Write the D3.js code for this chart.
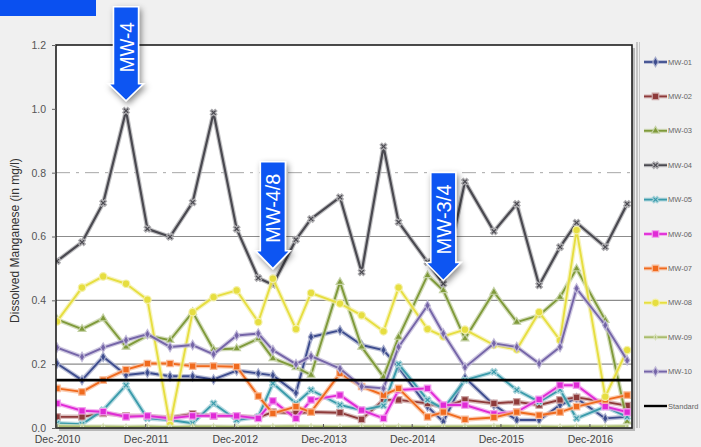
<!DOCTYPE html>
<html><head><meta charset="utf-8">
<script src="https://cdn.jsdelivr.net/npm/d3@7"></script>
<style>
html,body{margin:0;padding:0;background:#f0f0f0;}
svg{display:block;font-family:"Liberation Sans",Arial,sans-serif;}
</style></head><body>
<svg id="chart" width="701" height="447"></svg>
<script>
// ---------- data ----------
const sampleDates = ["2010-12-01","2011-03-14","2011-06-09","2011-09-11","2011-12-08","2012-03-10","2012-06-11","2012-09-05","2012-12-09","2013-03-08","2013-05-07","2013-08-10","2013-10-11","2014-02-07","2014-05-07","2014-08-05","2014-10-06","2015-02-02","2015-04-08","2015-07-06","2015-11-02","2016-02-04","2016-05-06","2016-07-31","2016-10-07","2017-02-02","2017-05-03"];
const seriesNames = ["MW-01","MW-02","MW-03","MW-04","MW-05","MW-06","MW-07","MW-08","MW-09","MW-10"];
const mw01 = [0.202,0.150,0.223,0.166,0.173,0.162,0.162,0.152,0.180,0.171,0.165,0.110,0.285,0.306,0.260,0.244,0.190,0.067,0.020,0.158,0.072,0.025,0.025,0.072,0.093,0.030,0.035];
const mw02 = [0.035,0.035,0.046,0.038,0.038,0.033,0.044,0.038,0.038,0.033,0.050,0.046,0.050,0.048,0.027,0.088,0.088,0.077,0.065,0.088,0.077,0.082,0.072,0.088,0.096,0.082,0.070];
const mw03 = [0.340,0.310,0.343,0.254,0.290,0.275,0.363,0.246,0.249,0.280,0.218,0.190,0.166,0.457,0.254,0.160,0.285,0.478,0.431,0.280,0.426,0.332,0.353,0.410,0.499,0.338,0.020];
const mw04 = [0.523,0.582,0.705,0.994,0.624,0.599,0.707,0.988,0.624,0.470,0.449,0.590,0.655,0.723,0.488,0.882,0.645,0.520,0.452,0.772,0.616,0.702,0.447,0.567,0.643,0.567,0.702];
const mw05 = [0.015,0.012,0.056,0.134,0.030,0.025,0.015,0.077,0.025,0.035,0.140,0.077,0.119,0.072,0.056,0.070,0.200,0.088,0.060,0.150,0.176,0.119,0.082,0.120,0.030,0.067,0.035];
const mw06 = [0.077,0.054,0.051,0.035,0.038,0.030,0.038,0.038,0.038,0.030,0.085,0.030,0.088,0.103,0.056,0.030,0.119,0.124,0.072,0.072,0.044,0.050,0.090,0.134,0.134,0.067,0.050];
const mw07 = [0.124,0.113,0.150,0.183,0.202,0.202,0.194,0.194,0.192,0.100,0.046,0.067,0.050,0.171,0.130,0.103,0.124,0.035,0.050,0.027,0.033,0.050,0.040,0.050,0.067,0.088,0.103];
const mw08 = [0.334,0.440,0.475,0.452,0.402,0.010,0.363,0.410,0.431,0.332,0.468,0.310,0.423,0.390,0.353,0.303,0.440,0.310,0.287,0.308,0.260,0.246,0.363,0.275,0.620,0.098,0.244];
const mw09 = [0.006,0.005,0.005,0.004,0.005,0.003,0.005,0.005,0.004,0.005,0.005,0.006,0.005,0.004,0.005,0.005,0.005,0.004,0.005,0.005,0.006,0.005,0.005,0.004,0.005,0.005,0.006];
const mw10 = [0.252,0.223,0.252,0.275,0.294,0.254,0.260,0.231,0.290,0.296,0.244,0.200,0.225,0.186,0.130,0.124,0.254,0.384,0.296,0.190,0.265,0.254,0.202,0.254,0.437,0.322,0.212];
const standardLabel = "Standard";
const standardValue = 0.15;
const yTicks = [0, 0.2, 0.4, 0.6, 0.8, 1.0, 1.2];
const xTickDates = ["2010-12-01","2011-12-01","2012-12-01","2013-12-01","2014-12-01","2015-12-01","2016-12-01"];
const yTitle = "Dissolved Manganese (in mg/l)";
const calloutLabels = ["MW-4", "MW-4/8", "MW-3/4"];
const calloutSeries = ["MW-04", "MW-08", "MW-03"];
const calloutIndex = [3, 10, 18];

// ---------- styles ----------
const seriesValues = [mw01,mw02,mw03,mw04,mw05,mw06,mw07,mw08,mw09,mw10];
const colors = ["#3d4c8e","#8e3a3a","#7f9a3a","#4a4950","#3a9bab","#e02ad6","#f06a1e","#e6de40","#a9bc6c","#7565a8"];
const symbols = [d3.symbolDiamond,d3.symbolSquare,d3.symbolTriangle,d3.symbolCross,d3.symbolCross,d3.symbolSquare,d3.symbolSquare,d3.symbolCircle,d3.symbolDiamond,d3.symbolDiamond];
const symSize = [26,42,26,28,28,42,42,44,8,26];
const symRot = [0,0,0,45,45,0,0,0,0,0];
const calloutShape = [{len:94, head:17},{len:107, head:18},{len:108, head:18}];

const W = 701, H = 447;
const plot = {left:56, right:632, top:45, bottom:428};
const parse = d3.timeParse("%Y-%m-%d");
const dates = sampleDates.map(parse);

const svg = d3.select("#chart");
const defs = svg.append("defs");
const f = defs.append("filter").attr("id","shadow").attr("x","-50%").attr("y","-20%").attr("width","200%").attr("height","150%");
f.append("feDropShadow").attr("dx",2).attr("dy",3).attr("stdDeviation",3).attr("flood-color","#000").attr("flood-opacity",0.45);
defs.append("clipPath").attr("id","clip").append("rect")
  .attr("x",plot.left).attr("y",plot.top).attr("width",plot.right-plot.left).attr("height",plot.bottom-plot.top);

const x = d3.scaleTime().domain([parse("2010-11-27"), parse("2017-05-23")]).range([plot.left, plot.right]);
const y = d3.scaleLinear().domain([0, 1.2]).range([plot.bottom, plot.top]);

// blue tab top-left
svg.append("rect").attr("x",0).attr("y",0).attr("width",96).attr("height",16).attr("fill","#0a50f0");

// plot frame shadow
svg.append("rect").attr("x",plot.left+3).attr("y",plot.top+3).attr("width",plot.right-plot.left).attr("height",plot.bottom-plot.top)
  .attr("fill","#b8b8b8");
svg.append("rect").attr("x",plot.left).attr("y",plot.top).attr("width",plot.right-plot.left).attr("height",plot.bottom-plot.top)
  .attr("fill","#fff");

// gridlines
const g = svg.append("g");
[0.2,0.4,0.6].forEach(v=>{
  g.append("line").attr("x1",plot.left).attr("x2",plot.right).attr("y1",y(v)).attr("y2",y(v))
   .attr("stroke","#8c8c8c").attr("stroke-width",1.2);
});
g.append("line").attr("x1",plot.left).attr("x2",plot.right).attr("y1",y(0.8)).attr("y2",y(0.8))
  .attr("stroke","#a8a8a8").attr("stroke-width",1).attr("stroke-dasharray","14,6,3,6");

// series
const line = d3.line().x((d,i)=>x(dates[i])).y(d=>y(d));
const data = seriesNames.map((n,i)=>({name:n, values:seriesValues[i], color:colors[i], i}));
const layer = svg.append("g").attr("clip-path","url(#clip)");
data.forEach(s=>{
  const halo = d3.interpolateRgb(s.color, "#ffffff")(0.55);
  const gs = layer.append("g");
  gs.append("path").datum(s.values).attr("d",line).attr("fill","none")
    .attr("stroke",halo).attr("stroke-width",4.5).attr("stroke-opacity",0.75).attr("stroke-linejoin","round");
  gs.append("path").datum(s.values).attr("d",line).attr("fill","none")
    .attr("stroke",s.color).attr("stroke-width",s.name==="MW-04"?2.2:1.9).attr("stroke-linejoin","round");
  gs.selectAll("path.m").data(s.values).join("path").attr("class","m")
    .attr("d", d3.symbol().type(symbols[s.i]).size(symSize[s.i]))
    .attr("transform",(d,i)=>`translate(${x(dates[i])},${y(d)}) rotate(${symRot[s.i]})`)
    .attr("fill",s.color).attr("stroke",halo).attr("stroke-width",1.2);
});

// standard line
svg.append("line").attr("x1",plot.left).attr("x2",plot.right).attr("y1",y(standardValue)).attr("y2",y(standardValue))
  .attr("stroke","#000").attr("stroke-width",2.6);

// frame
svg.append("rect").attr("x",plot.left).attr("y",plot.top).attr("width",plot.right-plot.left).attr("height",plot.bottom-plot.top)
  .attr("fill","none").attr("stroke","#1e1e1e").attr("stroke-width",1.6);

// y axis
const ya = svg.append("g").attr("transform",`translate(${plot.left},0)`)
  .call(d3.axisLeft(y).tickValues(yTicks).tickFormat(d3.format(".1f")).tickSize(4).tickPadding(6));
ya.select(".domain").remove();
ya.selectAll("line").attr("stroke","#666");
ya.selectAll("text").attr("fill","#555").style("font-size","10.5px").style("font-family","'Liberation Sans',Arial,sans-serif");

// x axis
const xa = svg.append("g").attr("transform",`translate(0,${plot.bottom})`)
  .call(d3.axisBottom(x).tickValues(xTickDates.map(parse)).tickFormat(d3.timeFormat("%b-%Y")).tickSize(0).tickPadding(7.5));
xa.select(".domain").remove();
xa.selectAll("text").attr("fill","#444").style("font-size","10.5px").style("font-family","'Liberation Sans',Arial,sans-serif");
svg.append("g").selectAll("line").data(xTickDates.map(parse)).join("line")
  .attr("x1",d=>x(d)).attr("x2",d=>x(d)).attr("y1",plot.bottom).attr("y2",plot.bottom-4).attr("stroke","#555");

// y title
svg.append("text").attr("transform",`translate(19,${(plot.top+plot.bottom)/2+4}) rotate(-90)`)
  .attr("text-anchor","middle").attr("fill","#333").style("font-size","12px").text(yTitle);

// legend
const lx = 637;
svg.append("line").attr("x1",lx).attr("x2",lx).attr("y1",42).attr("y2",428).attr("stroke","#9a9a9a").attr("stroke-width",1);
svg.append("line").attr("x1",lx+2.5).attr("x2",lx+2.5).attr("y1",42).attr("y2",428).attr("stroke","#c8c8c8").attr("stroke-width",1);
const legendNames = seriesNames.concat([standardLabel]);
const leg = svg.append("g").selectAll("g").data(legendNames).join("g")
  .attr("transform",(d,i)=>`translate(0,${62 + i*34.4})`);
leg.each(function(n,i){
  const gg = d3.select(this);
  if (i < seriesNames.length) {
    const c = colors[i], halo = d3.interpolateRgb(c,"#ffffff")(0.55);
    gg.append("line").attr("x1",644).attr("x2",667).attr("stroke",halo).attr("stroke-width",4).attr("stroke-opacity",0.75);
    gg.append("line").attr("x1",644).attr("x2",667).attr("stroke",c).attr("stroke-width",1.8);
    gg.append("path").attr("d",d3.symbol().type(symbols[i]).size(symSize[i])())
      .attr("transform",`translate(655.5,0) rotate(${symRot[i]})`).attr("fill",c).attr("stroke",halo).attr("stroke-width",1.2);
  } else {
    gg.append("line").attr("x1",644).attr("x2",667).attr("stroke","#000").attr("stroke-width",2.4);
  }
  gg.append("text").attr("x",668).attr("dy","0.35em").attr("fill","#666").style("font-size","7.5px").text(n);
});

// callouts
const calloutTextLen = {"MW-4":50, "MW-4/8":69, "MW-3/4":70};
calloutLabels.forEach((lab,k)=>{
  const si = seriesNames.indexOf(calloutSeries[k]);
  const idx = calloutIndex[k];
  const tx = x(dates[idx]);
  const ty = y(seriesValues[si][idx]) - 10;
  const {len, head} = calloutShape[k];
  const bw = 12.5, hw = 17.5;
  const pts = [[tx-bw,ty-len],[tx+bw,ty-len],[tx+bw,ty-head],[tx+hw,ty-head],[tx,ty],[tx-hw,ty-head],[tx-bw,ty-head]];
  svg.append("path").attr("d","M"+pts.map(p=>p.join(",")).join("L")+"Z")
    .attr("fill","#0a55f2").attr("stroke","#fff").attr("stroke-width",1.5).attr("filter","url(#shadow)");
  const cy = ty - head - (len-head)/2 + 2;
  svg.append("text").attr("transform",`translate(${tx},${cy}) rotate(-90)`)
    .attr("text-anchor","middle").attr("dy","0.36em").attr("fill","#fff")
    .attr("textLength",calloutTextLen[lab]).attr("lengthAdjust","spacingAndGlyphs")
    .style("font-size","21px").text(lab);
});
</script>
</body></html>
